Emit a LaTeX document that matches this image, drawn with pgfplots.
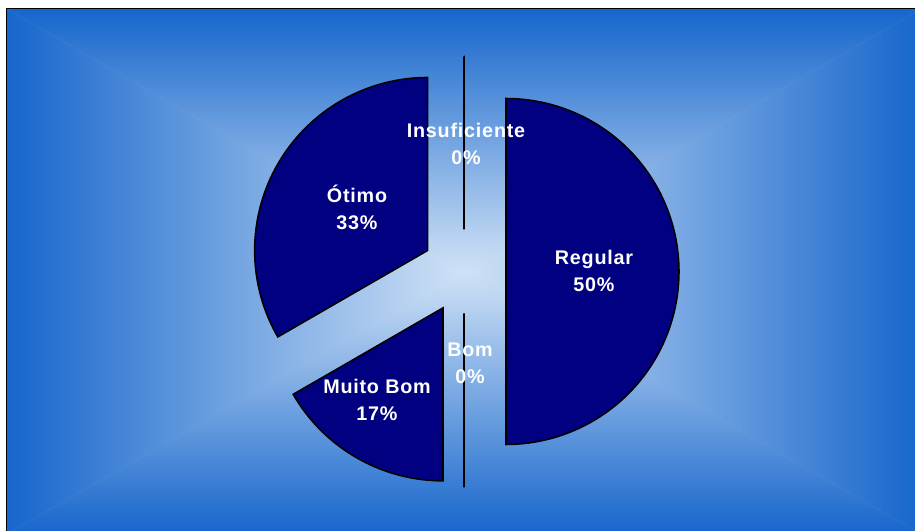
\documentclass[border=0pt]{standalone}
\usepackage{pgfplots}
\pgfplotsset{compat=1.18}
\usepackage{pgfplotstable}
\usepackage{fontspec}
\setmainfont{Liberation Sans}

\definecolor{bgedge}{RGB}{22,102,204}
\definecolor{bgmid}{RGB}{148,180,228}
\definecolor{bgcenter}{RGB}{208,226,246}
\definecolor{pienavy}{RGB}{0,0,128}

% avaliacao (percent of answers)
\pgfplotstableread[col sep=comma]{
label,value
Insuficiente,0
Regular,50
Bom,0
Muito Bom,16.67
Ótimo,33.33
}\piedata

\begin{document}
\begin{tikzpicture}[x=0.75pt,y=0.75pt]
% background: rectangular gradient, light in the centre
\def\L{7}\def\R{921}\def\T{522}\def\B{-3}
\coordinate (C) at (464,259.5);
\fill[bgmid] (\L,\B) rectangle (\R,\T);
\shade[top color=bgedge, middle color=bgmid, bottom color=bgcenter]
  (\L,\T) -- (\R,\T) -- (C) -- cycle;
\shade[top color=bgcenter, middle color=bgmid, bottom color=bgedge]
  (\L,\B) -- (\R,\B) -- (C) -- cycle;
\shade[left color=bgedge, middle color=bgmid, right color=bgcenter]
  (\L,\T) -- (\L,\B) -- (C) -- cycle;
\shade[left color=bgcenter, middle color=bgmid, right color=bgedge]
  (\R,\T) -- (\R,\B) -- (C) -- cycle;
\draw[black, line width=1pt] (6.7,-10) -- (6.7,522.3) -- (930,522.3);

\begin{axis}[
    at={(0,0)}, anchor=origin,
    x=0.75pt, y=0.75pt,
    xmin=0, xmax=915, ymin=0, ymax=531,
    hide axis, clip=false,
    slice/.style={fill=pienavy, draw=black, line width=1.15pt, samples=120},
  ]
  \pgfplotstablegetrowsof{\piedata}
  \pgfmathtruncatemacro\nrows{\pgfplotsretval-1}
  \def\startang{90}
  \pgfplotsforeachungrouped \i in {0,...,\nrows}{
    \pgfplotstablegetelem{\i}{value}\of\piedata
    \let\v\pgfplotsretval
    \pgfmathsetmacro\endang{\startang-3.6*\v}
    \pgfmathsetmacro\lo{min(\endang,\startang-0.001)}
    \pgfmathsetmacro\midang{(\startang+\endang)/2}
    \pgfmathsetmacro\cx{464+42*cos(\midang)}
    \pgfmathsetmacro\cy{259.5+42*sin(\midang)}
    \edef\temp{\noexpand\addplot[slice, domain=\lo:\startang]
      ({\cx+173*cos(x)},{\cy+173*sin(x)}) -- (axis cs:\cx,\cy) -- cycle;}
    \temp
    \let\startang\endang
  }

  \tikzset{lab/.style={text=white, align=center,
      font=\fontsize{14.8}{20.3}\selectfont\bfseries\addfontfeature{LetterSpace=4}}}
  \node[lab] at (axis cs:466,387.5) {Insuficiente\\0\%};
  \node[lab] at (axis cs:594,260) {Regular\\50\%};
  \node[lab] at (axis cs:470,168) {Bom\\0\%};
  \node[lab] at (axis cs:377,131) {Muito Bom\\17\%};
  \node[lab] at (axis cs:357,323.5) {Ótimo\\33\%};
\end{axis}
\pgfresetboundingbox
\useasboundingbox (0,0) rectangle (915,531);
\end{tikzpicture}
\end{document}
